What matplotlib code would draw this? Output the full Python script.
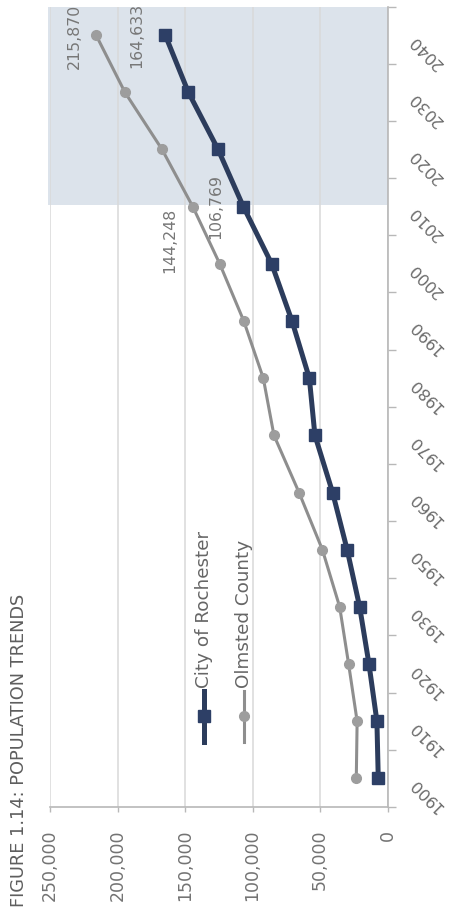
import matplotlib
matplotlib.use("Agg")
import matplotlib.pyplot as plt
import numpy as np
from matplotlib.ticker import FixedLocator, NullFormatter

# ---- data ----
years = ["1900", "1910", "1920", "1930", "1950", "1960", "1970",
         "1980", "1990", "2000", "2010", "2020", "2030", "2040"]
rochester = [6843, 7844, 13722, 20621, 29885, 40663, 53766,
             57890, 70745, 85806, 106769, 125500, 147500, 164633]
olmsted = [23119, 22497, 28800, 35426, 48228, 65532, 84104,
           92006, 106470, 124277, 144248, 167000, 194500, 215870]
value_ticks = [0, 50000, 100000, 150000, 200000, 250000]
series_names = ["City of Rochester", "Olmsted County"]
title = "FIGURE 1.14: POPULATION TRENDS"
projection_start = "2010"

# ---- styles ----
ROC_LINE = "#2c3c5c"
ROC_MARK = "#2d3f66"
OLM_LINE = "#8e8e8e"
OLM_MARK = "#9d9d9d"
SPINE = "#b8b8b8"
GRID = "#d9d9d9"
SHADE = "#dce3eb"

W, H = 453, 920
fig = plt.figure(figsize=(W / 100, H / 100), dpi=100)
fig.patch.set_facecolor("white")
ax = fig.add_axes([50 / W, 112 / H, 337.5 / W, 800.5 / H])

pos = np.arange(len(years))
ax.plot(olmsted, pos, color=OLM_LINE, lw=2.2, marker="o", ms=7,
        mfc=OLM_MARK, mec=OLM_MARK, zorder=3)
ax.plot(rochester, pos, color=ROC_LINE, lw=3.6, marker="s", ms=8.5,
        mfc=ROC_MARK, mec=ROC_MARK, zorder=4)

ax.set_xlim(value_ticks[-1], 0)
ax.set_ylim(-0.5, len(years) - 0.5)

# projection shading
i0 = years.index(projection_start) + 0.03
ax.axhspan(i0, len(years) - 0.5, xmin=-0.006, xmax=1, facecolor=SHADE,
           lw=0, zorder=0.2, clip_on=False)

# grid & spines
ax.set_axisbelow(True)
ax.grid(axis="x", color=GRID, lw=1.1)
ax.grid(axis="y", visible=False)
for s in ["top", "left"]:
    ax.spines[s].set_visible(False)
for s in ["bottom", "right"]:
    ax.spines[s].set_color(SPINE)
    ax.spines[s].set_linewidth(1.2)

# value axis (bottom of picture)
ax.set_xticks(value_ticks)
ax.set_xticklabels([f"{v:,}" for v in value_ticks])
ax.tick_params(axis="x", length=3.6, width=1, color=SPINE, pad=12.2,
               labelsize=12.5, labelcolor="#737373")
plt.setp(ax.get_xticklabels(), rotation=90, ha="center", va="top")

# year axis (right of picture): ticks between categories, labels drawn as text
ax.yaxis.tick_right()
ax.set_yticks(pos)
ax.yaxis.set_major_formatter(NullFormatter())
ax.yaxis.set_minor_locator(FixedLocator(np.arange(-0.5, len(years), 1.0)))
ax.tick_params(axis="y", which="major", length=0)
ax.tick_params(axis="y", which="minor", length=5.8, width=1, color=SPINE,
               direction="out")
for i, yr in zip(pos, years):
    ax.annotate(yr, xy=(1, i), xycoords=("axes fraction", "data"),
                xytext=(17.5, -0.5), textcoords="offset points",
                rotation=135, rotation_mode="anchor", ha="right",
                va="center", fontsize=11.6, color="#6a6a6a",
                annotation_clip=False)

# data labels
label_specs = [
    (olmsted, "2040", (-15.8, 0.0), "center"),
    (rochester, "2040", (-20.2, 0.8), "center"),
    (olmsted, "2010", (-16.5, 0.0), "right"),
    (rochester, "2010", (-20.2, 1.0), "center"),
]
for series, yr, off, ha in label_specs:
    i = years.index(yr)
    ax.annotate(f"{series[i]:,}", xy=(series[i], i), xytext=off,
                textcoords="offset points", rotation=90,
                rotation_mode="anchor", ha=ha, va="center",
                fontsize=11.3, color="#777777", zorder=5,
                annotation_clip=False)

# legend (drawn vertically)
leg = [(0.456, ROC_LINE, ROC_MARK, "s", 8.5, 3.6),
       (0.575, OLM_LINE, OLM_MARK, "o", 7, 2.2)]
for (lx, lc, mc, mk, ms, lw), name in zip(leg, series_names):
    ax.plot([lx, lx], [0.0812, 0.1449], transform=ax.transAxes, color=lc,
            lw=lw, zorder=5, clip_on=False)
    ax.plot([lx], [0.1137], transform=ax.transAxes, marker=mk, ms=ms,
            mfc=mc, mec=mc, zorder=6, clip_on=False)
    ax.text(lx, 0.150, name, transform=ax.transAxes, rotation=90,
            rotation_mode="anchor", ha="left", va="center", fontsize=13.2,
            color="#666666")

# title
fig.text(19 / W, 13 / H, title, rotation=90, ha="center", va="bottom",
         fontsize=12.8, color="#5e5e5e")

fig.savefig("out.png", dpi=100)
